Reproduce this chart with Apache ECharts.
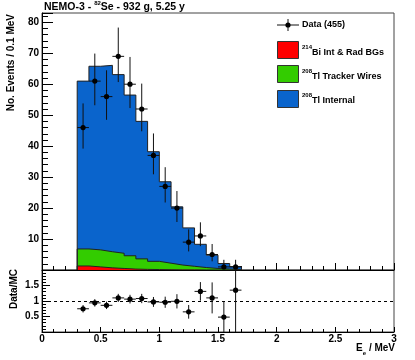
<!DOCTYPE html>
<html>
<head>
<meta charset="utf-8">
<script src="https://cdn.jsdelivr.net/npm/echarts@6/dist/echarts.min.js"></script>
<style>
  html, body { margin: 0; padding: 0; background: #fff; }
  #chart { width: 415px; height: 360px; }
</style>
</head>
<body>
<div id="chart"></div>
<script>
// bin lower edges (0.1 MeV bins)
const binEdges = [0.3, 0.4, 0.5, 0.6, 0.7, 0.8, 0.9, 1.0, 1.1, 1.2, 1.3, 1.4, 1.5, 1.6];
const binWidth = 0.1;
// MC components (events / bin)
const biBg = [1.3, 1.0, 0.7, 0.5, 0.3, 0.2, 0.15, 0.1, 0.05, 0.05, 0.03, 0.02, 0.01, 0.01];
const tlWires = [5.5, 5.5, 5.2, 4.9, 4.3, 3.4, 2.65, 2.1, 1.55, 1.15, 0.77, 0.48, 0.29, 0.14];
const tlInternal = [54.2, 59.3, 60.2, 57.7, 51.9, 44.4, 35.4, 26.3, 18.8, 12.4, 7.5, 4.3, 1.8, 0.95];
// data
const dataVals = [46, 61, 56, 69, 60, 52, 37, 27, 20, 9, 11, 5, 1, 1];
const dataErrLo = [6.8, 7.8, 7.5, 8.3, 7.7, 7.2, 6.1, 5.2, 4.5, 3.0, 3.3, 2.2, 0.8, 0.8];
const dataErrHi = [7.8, 8.9, 8.5, 9.3, 8.8, 8.2, 7.1, 6.2, 5.5, 4.1, 4.4, 3.4, 2.3, 2.3];
// ratio panel
const ratioVals = [0.75, 0.94, 0.86, 1.10, 1.06, 1.08, 0.97, 0.96, 0.99, 0.65, 1.31, 1.10, 0.48, 1.35];
const ratioErr = [0.12, 0.12, 0.12, 0.13, 0.14, 0.15, 0.16, 0.18, 0.23, 0.22, 0.30, 0.50, 0.50, 1.5];
const xTicks = [0, 0.5, 1, 1.5, 2, 2.5, 3];

const FONT = 'Liberation Sans';
const chart = echarts.init(document.getElementById('chart'));

// cumulative stack tops
const red = biBg;
const green = biBg.map((v, i) => v + tlWires[i]);
const blue = green.map((v, i) => v + tlInternal[i]);

// step outline points: start at 0, one point per bin edge, end at last edge
const stepData = (vals) => {
  const pts = [[binEdges[0], 0]];
  vals.forEach((v, i) => pts.push([binEdges[i], v]));
  pts.push([binEdges[binEdges.length - 1] + binWidth, 0]);
  return pts;
};

const histSeries = (name, vals, color) => ({
  name: name,
  type: 'line',
  xAxisIndex: 0,
  yAxisIndex: 0,
  z: 2,
  step: 'end',
  symbol: 'none',
  data: stepData(vals),
  lineStyle: { color: '#222', width: 1 },
  areaStyle: { color: color, opacity: 1 },
  silent: true,
  animation: false
});

const errSeries = (idx, vals, lo, hi, ymin, ymax, extra) => Object.assign({
  type: 'custom',
  xAxisIndex: idx,
  yAxisIndex: idx,
  z: 5,
  data: vals.map((v, i) => [binEdges[i] + binWidth / 2, v, lo[i], hi[i]]),
  encode: { x: 0, y: 1 },
  renderItem: (params, api) => {
    const x = api.value(0), y = api.value(1);
    const p = api.coord([x, y]);
    const t = api.coord([x, Math.min(y + api.value(3), ymax)]);
    const b = api.coord([x, Math.max(y - api.value(2), ymin)]);
    const l = api.coord([x - binWidth / 2, y]);
    const r = api.coord([x + binWidth / 2, y]);
    const st = { stroke: '#111', lineWidth: 1 };
    return {
      type: 'group',
      children: [
        { type: 'line', shape: { x1: p[0], y1: t[1], x2: p[0], y2: b[1] }, style: st },
        { type: 'line', shape: { x1: l[0], y1: p[1], x2: r[0], y2: p[1] }, style: st },
        { type: 'circle', shape: { cx: p[0], cy: p[1], r: 2.6 }, style: { fill: '#000' } }
      ]
    };
  },
  animation: false
}, extra || {});

const axisText = { color: '#000', fontFamily: FONT, fontWeight: 'bold', fontSize: 10 };
const supRich = (size) => ({
  a: { fontFamily: FONT, fontWeight: 'bold', fontSize: size, lineHeight: 13, verticalAlign: 'bottom', fill: '#000' },
  s: { fontFamily: FONT, fontWeight: 'bold', fontSize: 6, lineHeight: 13, verticalAlign: 'top', fill: '#000' }
});

chart.setOption({
  animation: false,
  grid: [
    { left: 42, right: 21, top: 13, height: 257, show: true, borderColor: '#444', borderWidth: 1 },
    { left: 42, right: 21, top: 270, height: 62, show: true, borderColor: '#444', borderWidth: 1 }
  ],
  xAxis: [
    {
      gridIndex: 0, type: 'value', min: 0, max: 3, interval: 0.5,
      axisLine: { show: true, onZero: false, lineStyle: { color: '#000' } },
      axisTick: { show: true, inside: true, length: 7, lineStyle: { color: '#000' } },
      minorTick: { show: true, splitNumber: 5, length: 4, lineStyle: { color: '#000' } },
      axisLabel: { show: false },
      splitLine: { show: false }
    },
    {
      gridIndex: 1, type: 'value', min: 0, max: 3, interval: 0.5,
      axisLine: { show: true, onZero: false, lineStyle: { color: '#000' } },
      axisTick: { show: true, inside: true, length: 5, lineStyle: { color: '#000' } },
      minorTick: { show: true, splitNumber: 5, length: 3, lineStyle: { color: '#000' } },
      axisLabel: Object.assign({
        margin: 2,
        formatter: (v) => (xTicks.indexOf(v) >= 0 ? String(v) : '')
      }, axisText),
      splitLine: { show: false }
    }
  ],
  yAxis: [
    {
      gridIndex: 0, type: 'value', min: 0, max: 83, interval: 10,
      axisLine: { show: true, onZero: false, lineStyle: { color: '#000' } },
      axisTick: { show: true, inside: true, length: 11, lineStyle: { color: '#000' } },
      minorTick: { show: true, splitNumber: 5, length: 6, lineStyle: { color: '#000' } },
      axisLabel: Object.assign({
        margin: 3,
        showMaxLabel: false,
        formatter: (v) => (v > 0 && v % 10 === 0 ? String(v) : '')
      }, axisText),
      splitLine: { show: false }
    },
    {
      gridIndex: 1, type: 'value', min: 0, max: 2, interval: 0.5,
      axisLine: { show: true, onZero: false, lineStyle: { color: '#000' } },
      axisTick: { show: true, inside: true, length: 8, lineStyle: { color: '#000' } },
      minorTick: { show: true, splitNumber: 5, length: 4, lineStyle: { color: '#000' } },
      axisLabel: Object.assign({
        margin: 3,
        formatter: (v) => ({ 0.5: '0.5', 1: '1', 1.5: '1.5' }[v] || '')
      }, axisText),
      splitLine: { show: false }
    }
  ],
  series: [
    histSeries('208Tl Internal', blue, '#0a64cc'),
    histSeries('208Tl Tracker Wires', green, '#33cc00'),
    histSeries('214Bi Int & Rad BGs', red, '#ff0000'),
    errSeries(0, dataVals, dataErrLo, dataErrHi, 0, 83),
    errSeries(1, ratioVals, ratioErr, ratioErr, 0, 2, {
      markLine: {
        silent: true,
        symbol: 'none',
        label: { show: false },
        lineStyle: { color: '#000', type: [3, 3], width: 1 },
        data: [{ yAxis: 1 }]
      }
    })
  ],
  graphic: [
    // title
    {
      type: 'text', x: 44, y: 0,
      style: { text: '{a|NEMO-3 - }{s|82}{a|Se - 932 g, 5.25 y}', rich: supRich(10.5) }
    },
    // y titles
    {
      type: 'text', x: 11, y: 14, rotation: Math.PI / 2,
      style: { text: 'No. Events / 0.1 MeV', fontFamily: FONT, fontWeight: 'bold', fontSize: 10, fill: '#000', align: 'right', verticalAlign: 'middle' }
    },
    {
      type: 'text', x: 14, y: 269, rotation: Math.PI / 2,
      style: { text: 'Data/MC', fontFamily: FONT, fontWeight: 'bold', fontSize: 10, fill: '#000', align: 'right', verticalAlign: 'middle' }
    },
    // x title
    {
      type: 'text', x: 395, y: 343,
      style: {
        text: '{a|E}{s|e}{a| / MeV}', align: 'right',
        rich: {
          a: { fontFamily: FONT, fontWeight: 'bold', fontSize: 10, lineHeight: 13, verticalAlign: 'top', fill: '#000' },
          s: { fontFamily: FONT, fontWeight: 'bold', fontSize: 6, lineHeight: 13, verticalAlign: 'bottom', fill: '#000' }
        }
      }
    },
    // legend: data
    { type: 'line', shape: { x1: 277, y1: 25, x2: 299, y2: 25 }, style: { stroke: '#111', lineWidth: 1 } },
    { type: 'line', shape: { x1: 288, y1: 19, x2: 288, y2: 31 }, style: { stroke: '#111', lineWidth: 1 } },
    { type: 'circle', shape: { cx: 288, cy: 25, r: 2.6 }, style: { fill: '#000' } },
    {
      type: 'text', x: 302, y: 25,
      style: { text: 'Data (455)', fontFamily: FONT, fontWeight: 'bold', fontSize: 9, fill: '#000', verticalAlign: 'middle' }
    },
    // legend: boxes
    { type: 'rect', shape: { x: 277.5, y: 41.5, width: 21, height: 17 }, style: { fill: '#ff0000', stroke: '#333', lineWidth: 1 } },
    { type: 'rect', shape: { x: 277.5, y: 65.5, width: 21, height: 17 }, style: { fill: '#33cc00', stroke: '#333', lineWidth: 1 } },
    { type: 'rect', shape: { x: 277.5, y: 90.5, width: 21, height: 17 }, style: { fill: '#0a64cc', stroke: '#333', lineWidth: 1 } },
    { type: 'text', x: 302, y: 44, style: { text: '{s|214}{a|Bi Int & Rad BGs}', rich: supRich(9) } },
    { type: 'text', x: 302, y: 68, style: { text: '{s|208}{a|Tl Tracker Wires}', rich: supRich(9) } },
    { type: 'text', x: 302, y: 92, style: { text: '{s|208}{a|Tl Internal}', rich: supRich(9) } }
  ]
});
</script>
</body>
</html>
